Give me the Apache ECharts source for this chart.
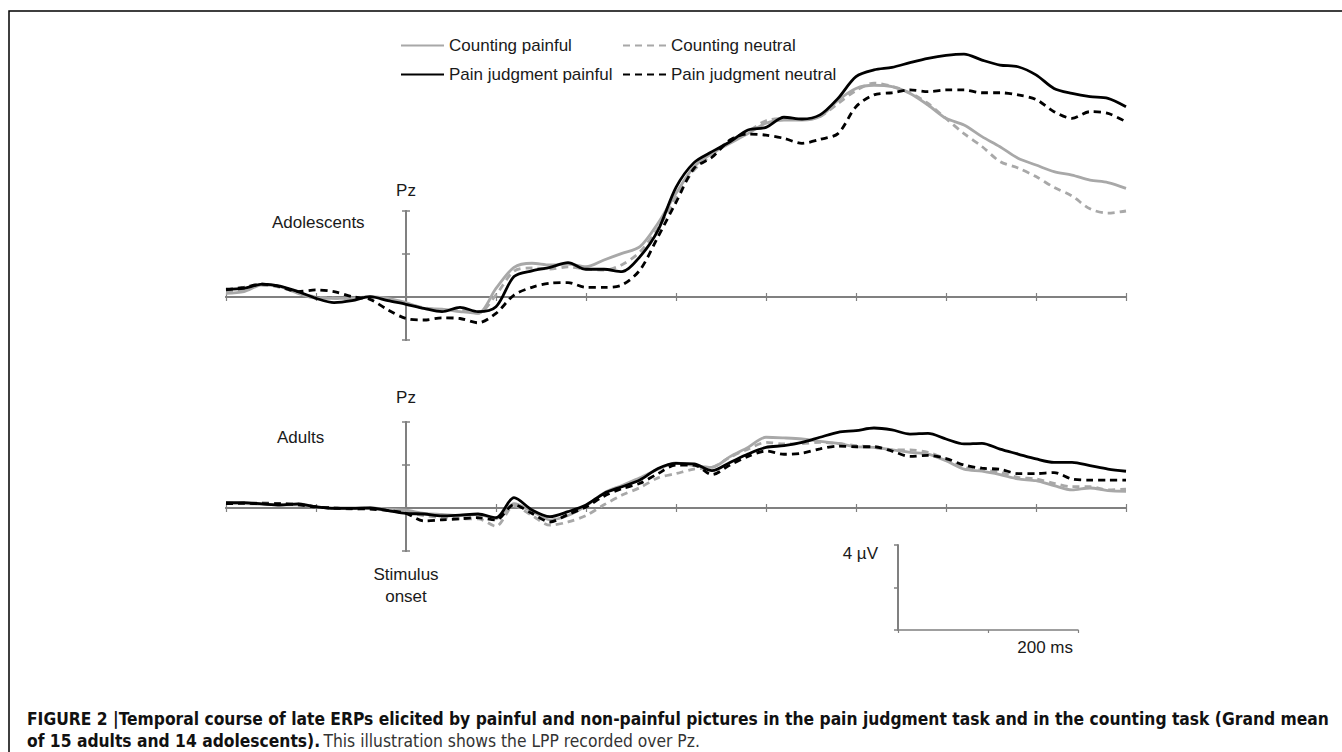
<!DOCTYPE html>
<html>
<head>
<meta charset="utf-8">
<script src="https://cdn.jsdelivr.net/npm/echarts@6/dist/echarts.min.js"></script>
<style>
  html, body { margin: 0; padding: 0; background: #fff; }
  #chart { width: 1342px; height: 752px; }
</style>
</head>
<body>
<div id="chart"></div>
<script>
var $chart = document.getElementById('chart');
var myChart = echarts.init($chart, null, { renderer: 'svg' });

// time points in ms (stimulus onset at 0)
var times = [-200, -180, -160, -140, -120, -100, -80, -60, -40, -20,
  0, 20, 40, 60, 80, 100, 120, 140, 160, 180,
  200, 220, 240, 260, 280, 300, 320, 340, 360, 380,
  400, 420, 440, 460, 480, 500, 520, 540, 560, 580,
  600, 620, 640, 660, 680, 700, 720, 740, 760, 780, 800];

// Adolescents, Pz, µV
var adoCntPain = [0.17, 0.25, 0.56, 0.48, 0.17, -0.06, -0.06, -0.06, 0.02, -0.06,
  -0.26, -0.53, -0.57, -0.68, -0.76, 0.4, 1.38, 1.57, 1.49, 1.53,
  1.41, 1.72, 2.03, 2.34, 3.43, 4.82, 6.06, 6.68, 7.15, 7.6,
  8.08, 8.23, 8.23, 8.39, 9.15, 9.7, 9.85, 9.78, 9.47, 8.93,
  8.31, 8.0, 7.46, 6.99, 6.45, 6.14, 5.83, 5.67, 5.44, 5.32, 5.05];
var adoCntNeu = [0.25, 0.35, 0.55, 0.45, 0.2, 0.0, -0.05, -0.1, 0.0, -0.1,
  -0.3, -0.5, -0.6, -0.6, -0.75, 0.1, 1.2, 1.35, 1.3, 1.4,
  1.3, 1.25, 1.5, 2.1, 3.2, 4.6, 5.9, 6.6, 7.3, 7.7,
  8.2, 8.3, 8.25, 8.4, 9.0, 9.6, 9.95, 9.8, 9.5, 9.0,
  8.3, 7.6, 7.0, 6.3, 6.0, 5.6, 5.1, 4.7, 4.1, 3.9, 4.0];
var adoPjPain = [0.36, 0.4, 0.6, 0.51, 0.25, -0.06, -0.26, -0.17, 0.02, -0.17,
  -0.34, -0.53, -0.68, -0.48, -0.68, -0.45, 0.95, 1.22, 1.38, 1.6,
  1.29, 1.29, 1.18, 1.88, 3.1, 5.1, 6.25, 6.76, 7.22, 7.77,
  7.89, 8.36, 8.28, 8.47, 9.24, 10.25, 10.56, 10.68, 10.9, 11.1,
  11.24, 11.3, 11.02, 10.79, 10.71, 10.33, 9.7, 9.47, 9.32, 9.24, 8.85];
var adoPjNeu = [0.33, 0.45, 0.6, 0.48, 0.25, 0.33, 0.25, 0.02, -0.11, -0.6,
  -1.0, -1.07, -0.97, -1.0, -1.2, -0.76, 0.09, 0.45, 0.64, 0.67,
  0.45, 0.45, 0.56, 1.26, 2.8, 4.4, 5.98, 6.5, 7.3, 7.58,
  7.53, 7.38, 7.15, 7.33, 7.6, 8.85, 9.4, 9.5, 9.63, 9.55,
  9.63, 9.63, 9.5, 9.5, 9.4, 9.19, 8.62, 8.31, 8.62, 8.54, 8.15];

// Adults, Pz, µV
var adCntPain = [0.2, 0.2, 0.18, 0.15, 0.15, 0.05, 0.0, 0.0, 0.0, -0.05,
  -0.1, -0.25, -0.3, -0.35, -0.3, -0.5, 0.2, -0.15, -0.55, -0.35,
  0.1, 0.7, 1.05, 1.4, 1.8, 2.1, 1.97, 1.89, 2.39, 2.82,
  3.29, 3.26, 3.21, 3.1, 3.0, 2.85, 2.82, 2.7, 2.59, 2.51,
  2.2, 1.81, 1.71, 1.55, 1.35, 1.27, 1.04, 0.84, 0.93, 0.81, 0.78];
var adCntNeu = [0.25, 0.2, 0.25, 0.2, 0.2, 0.05, 0.0, -0.05, 0.0, -0.1,
  -0.2, -0.35, -0.45, -0.5, -0.5, -0.85, 0.1, -0.35, -0.8, -0.65,
  -0.35, 0.15, 0.6, 0.95, 1.4, 1.6, 1.81, 1.89, 2.36, 2.74,
  3.05, 2.98, 3.0, 3.05, 3.0, 2.9, 2.82, 2.7, 2.7, 2.59,
  2.28, 1.89, 1.77, 1.66, 1.43, 1.35, 1.15, 0.99, 0.99, 0.84, 0.88];
var adPjPain = [0.25, 0.25, 0.19, 0.14, 0.19, 0.06, -0.02, -0.02, 0.0, -0.12,
  -0.25, -0.28, -0.37, -0.33, -0.28, -0.45, 0.48, -0.09, -0.4, -0.17,
  0.14, 0.68, 0.99, 1.3, 1.84, 2.08, 2.05, 1.74, 2.12, 2.51,
  2.82, 2.9, 3.05, 3.29, 3.52, 3.6, 3.72, 3.63, 3.44, 3.47,
  3.21, 2.98, 3.01, 2.74, 2.51, 2.28, 2.12, 2.12, 1.97, 1.81, 1.71];
var adPjNeu = [0.2, 0.22, 0.2, 0.2, 0.15, 0.05, 0.0, -0.03, -0.05, -0.12,
  -0.25, -0.6, -0.55, -0.5, -0.45, -0.55, 0.15, -0.25, -0.65, -0.3,
  0.05, 0.55, 0.9, 1.15, 1.6, 2.0, 2.0, 1.55, 2.0, 2.4,
  2.65, 2.5, 2.55, 2.75, 2.88, 2.85, 2.85, 2.65, 2.4, 2.45,
  2.3, 2.0, 1.85, 1.8, 1.6, 1.6, 1.65, 1.35, 1.3, 1.3, 1.3];

var seriesNames = ['Counting painful', 'Counting neutral', 'Pain judgment painful', 'Pain judgment neutral'];
var seriesColors = ['#a8a8a8', '#a8a8a8', '#000000', '#000000'];
var seriesDash = ['solid', [7, 5], 'solid', [7, 5]];

var FONT = '"Liberation Sans", Arial, sans-serif';
var CAPTION_FONT = '"Liberation Sans Narrow", "DejaVu Sans Condensed", "Liberation Sans", sans-serif';
var AXIS_GRAY = '#808080';

function pairs(values) {
  return values.map(function(v, i) { return [times[i], v]; });
}

function makeSeries(gridIdx, list) {
  return list.map(function(values, k) {
    return {
      name: seriesNames[k],
      type: 'line',
      xAxisIndex: gridIdx * 2,
      yAxisIndex: gridIdx * 2,
      data: pairs(values),
      symbol: 'none',
      smooth: 0.3,
      clip: false,
      z: k < 2 ? 2 : 3,
      lineStyle: { color: seriesColors[k], width: 2.8, type: seriesDash[k] },
      itemStyle: { color: seriesColors[k] }
    };
  });
}

// two x axes and two y axes per panel so the ticks cross the axis line
function panelAxes(gridIdx) {
  var xs = [false, true].map(function(inside) {
    return {
      gridIndex: gridIdx, type: 'value', min: -200, max: 800, interval: 100,
      position: 'bottom',
      axisLine: { onZero: true, lineStyle: { color: AXIS_GRAY, width: 2 } },
      axisTick: { inside: inside, length: 4, lineStyle: { color: AXIS_GRAY, width: 1.2 } },
      axisLabel: { show: false },
      splitLine: { show: false }
    };
  });
  var ys = [false, true].map(function(inside) {
    return {
      gridIndex: gridIdx, type: 'value', min: -2, max: 4, interval: 2,
      position: 'left',
      axisLine: { onZero: true, lineStyle: { color: AXIS_GRAY, width: 2 } },
      axisTick: { inside: inside, length: 4, lineStyle: { color: AXIS_GRAY, width: 1.5 } },
      axisLabel: { show: false },
      splitLine: { show: false }
    };
  });
  return { x: xs, y: ys };
}

var adoAxes = panelAxes(0);
var adAxes = panelAxes(1);

function legendAt(name, left, top) {
  return {
    data: [name], left: left, top: top, padding: 0,
    itemWidth: 43, itemHeight: 14, selectedMode: false,
    itemStyle: { opacity: 0 },
    textStyle: { fontFamily: FONT, fontSize: 17, color: '#1a1a1a' }
  };
}

function label(text, x, y, align) {
  return {
    type: 'text', x: x, y: y,
    style: {
      text: text, fill: '#1a1a1a', font: '17px ' + FONT,
      textAlign: align || 'left', textVerticalAlign: 'middle'
    }
  };
}

var options = {
  animation: false,
  backgroundColor: '#ffffff',
  legend: [
    legendAt('Counting painful', 400, 37),
    legendAt('Counting neutral', 622, 37),
    legendAt('Pain judgment painful', 400, 66),
    legendAt('Pain judgment neutral', 622, 66)
  ],
  grid: [
    { left: 226, top: 211, width: 900, height: 129 },
    { left: 226, top: 422, width: 900, height: 129 },
    { left: 898, top: 545, width: 180, height: 85 }
  ],
  xAxis: adoAxes.x.concat(adAxes.x).concat([{
    gridIndex: 2, type: 'value', min: 0, max: 200, interval: 100,
    axisLine: { onZero: false, lineStyle: { color: AXIS_GRAY, width: 1.5 } },
    axisTick: { length: 3, lineStyle: { color: AXIS_GRAY, width: 1.2 } },
    axisLabel: {
      showMinLabel: true, showMaxLabel: true, margin: 9, align: 'right',
      padding: [0, 5, 0, 0], fontFamily: FONT, fontSize: 17, color: '#1a1a1a',
      formatter: function(v) { return v === 200 ? '200 ms' : ''; }
    },
    splitLine: { show: false }
  }]),
  yAxis: adoAxes.y.concat(adAxes.y).concat([{
    gridIndex: 2, type: 'value', min: 0, max: 4, interval: 2,
    axisLine: { onZero: false, lineStyle: { color: AXIS_GRAY, width: 2 } },
    axisTick: { length: 4, lineStyle: { color: AXIS_GRAY, width: 1.5 } },
    axisLabel: {
      showMinLabel: true, showMaxLabel: true, margin: 20, verticalAlign: 'top',
      fontFamily: FONT, fontSize: 17, color: '#1a1a1a',
      formatter: function(v) { return v === 4 ? '4 µV' : ''; }
    },
    splitLine: { show: false }
  }]),
  series: makeSeries(0, [adoCntPain, adoCntNeu, adoPjPain, adoPjNeu])
    .concat(makeSeries(1, [adCntPain, adCntNeu, adPjPain, adPjNeu])),
  graphic: [
    // page frame (top and left edges)
    { type: 'polyline', shape: { points: [[9, 752], [9, 11], [1342, 11]] },
      style: { stroke: '#000', lineWidth: 1.5, fill: null } },
    label('Pz', 406, 190, 'center'),
    label('Adolescents', 272, 222),
    label('Pz', 406, 397, 'center'),
    label('Adults', 277, 437),
    label('Stimulus', 406, 574, 'center'),
    label('onset', 406, 596, 'center'),
    {
      type: 'text', x: 27, y: 719,
      style: {
        text: 'FIGURE 2 |Temporal course of late ERPs elicited by painful and non-painful pictures in the pain judgment task and in the counting task (Grand mean',
        fill: '#111', font: 'bold 17.3px ' + CAPTION_FONT, textVerticalAlign: 'middle'
      }
    },
    {
      type: 'text', x: 27, y: 741,
      style: {
        text: '{b|of 15 adults and 14 adolescents).} {r|This illustration shows the LPP recorded over Pz.}',
        textVerticalAlign: 'middle',
        rich: {
          b: { fontWeight: 'bold', fontSize: 17.3, fontFamily: CAPTION_FONT, fill: '#111' },
          r: { fontSize: 17.3, fontFamily: CAPTION_FONT, fill: '#333' }
        }
      }
    }
  ]
};

myChart.setOption(options);
</script>
</body>
</html>
